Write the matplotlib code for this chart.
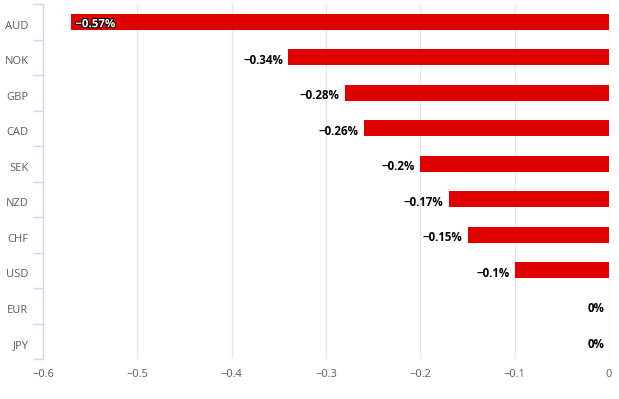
import matplotlib
matplotlib.use("Agg")
import matplotlib.pyplot as plt
import matplotlib.patheffects as pe
from matplotlib.transforms import offset_copy, ScaledTranslation

plt.rcParams["font.family"] = ["Noto Sans", "DejaVu Sans"]

categories = ["AUD", "NOK", "GBP", "CAD", "SEK", "NZD", "CHF", "USD", "EUR", "JPY"]
values = [-0.57, -0.34, -0.28, -0.26, -0.2, -0.17, -0.15, -0.1, 0.0, 0.0]
labels = ["\u22120.57%", "\u22120.34%", "\u22120.28%", "\u22120.26%", "\u22120.2%",
          "\u22120.17%", "\u22120.15%", "\u22120.1%", "0%", "0%"]
xticks = [-0.6, -0.5, -0.4, -0.3, -0.2, -0.1, 0]

fig = plt.figure(figsize=(6.19, 3.99), dpi=100)
W, H = 619, 399
ax = fig.add_axes([43 / W, 1 - 359 / H, (609 - 43) / W, (359 - 4) / H])

ypos = list(range(len(categories)))
ax.barh(ypos, values, height=0.45, color="#e10000", zorder=3)
ax.set_ylim(len(categories) - 0.5, -0.5)
ax.set_xlim(-0.6, 0)

ax.set_xticks(xticks)
ax.set_xticklabels(["\u22120.6", "\u22120.5", "\u22120.4", "\u22120.3", "\u22120.2", "\u22120.1", "0"])
ax.set_yticks(ypos)
ax.set_yticklabels(categories)
ax.set_yticks([i - 0.5 for i in range(len(categories) + 1)], minor=True)

ax.tick_params(axis="y", which="major", length=0, pad=10.5, labelsize=8, labelcolor="#666666")
ax.tick_params(axis="y", which="minor", length=7, width=1, color="#ccd6eb")
ax.tick_params(axis="x", length=0, pad=7, labelsize=8, labelcolor="#666666")

shift = ScaledTranslation(0, -3 / 100, fig.dpi_scale_trans)
for tl in ax.get_yticklabels():
    tl.set_transform(tl.get_transform() + shift)

for x in xticks[1:]:
    ax.axvline(x, color="#e6e6e6", linewidth=1, zorder=1)

for s in ["top", "right", "bottom"]:
    ax.spines[s].set_visible(False)
ax.spines["left"].set_color("#ccd6eb")
ax.spines["left"].set_linewidth(1)

lab_font = ["Open Sans", "DejaVu Sans"]
for i, (v, lab) in enumerate(zip(values, labels)):
    if i == 0:
        t = ax.text(v, i, lab, ha="left", va="center", fontsize=8.3, fontweight="bold",
                    family=lab_font, color="white", zorder=5,
                    transform=offset_copy(ax.transData, fig=fig, x=4, y=-2, units="dots"))
        t.set_path_effects([pe.withStroke(linewidth=1.5, foreground="black")])
    else:
        ax.text(v, i, lab, ha="right", va="center", fontsize=8.3, fontweight="bold",
                family=lab_font, color="black", zorder=5,
                transform=offset_copy(ax.transData, fig=fig, x=-5, y=-3, units="dots"))

fig.savefig("out.png", dpi=100)
